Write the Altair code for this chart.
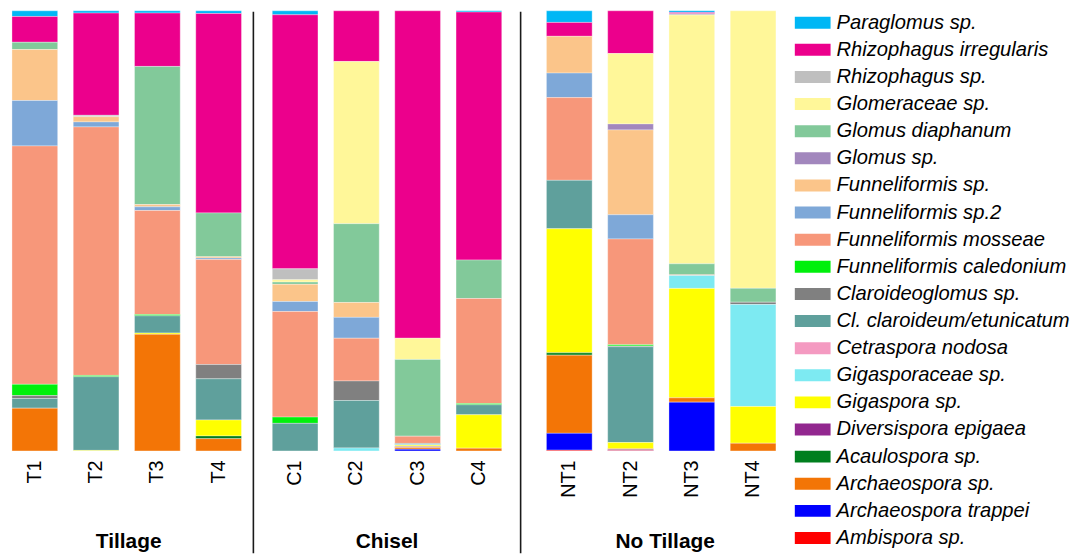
import altair as alt
import pandas as pd

# ---- data (relative abundance) ----
samples = ["T1", "T2", "T3", "T4", "C1", "C2", "C3", "C4", "NT1", "NT2", "NT3", "NT4"]
groups = ["Tillage"] * 4 + ["Chisel"] * 4 + ["No Tillage"] * 4

species = [
    "Paraglomus sp.", "Rhizophagus irregularis", "Rhizophagus sp.", "Glomeraceae sp.",
    "Glomus diaphanum", "Glomus sp.", "Funneliformis sp.", "Funneliformis sp.2",
    "Funneliformis mosseae", "Funneliformis caledonium", "Claroideoglomus sp.",
    "Cl. claroideum/etunicatum", "Cetraspora nodosa", "Gigasporaceae sp.", "Gigaspora sp.",
    "Diversispora epigaea", "Acaulospora sp.", "Archaeospora sp.", "Archaeospora trappei",
    "Ambispora sp.",
]
colors = [
    "#00B7F5", "#EC008C", "#BFBFBF", "#FFF799", "#82C99A", "#A287BD", "#FBC58A", "#7EA8D8",
    "#F7977A", "#00F00C", "#808080", "#5FA09C", "#F49AC1", "#7DEAF2", "#FFFF00",
    "#92278F", "#007F1E", "#F37506", "#0000FF", "#FF0000",
]

paraglomus      = [5.7, 2.3, 2.3, 2.7, 4.0, 0, 0, 1.3, 11.7, 0, 1.7, 0]
rhiz_irr        = [26.0, 102.7, 53.7, 200.0, 255.7, 51.0, 329.7, 249.6, 14.0, 43.0, 1.3, 0]
rhiz_sp         = [0, 1.3, 0, 0, 11.0, 0, 0, 0, 0, 0, 1.3, 0]
glomeraceae     = [0, 0, 0, 0, 2.3, 163.3, 21.3, 0, 0, 70.7, 250.0, 279.4]
glomus_diaph    = [7.3, 0, 139.0, 44.0, 2.3, 79.3, 77.3, 38.7, 0, 0, 11.0, 14.0]
glomus_sp       = [0, 0, 0, 0, 0, 0, 0, 0, 0, 6.0, 0, 0]
funnel_sp       = [51.3, 5.3, 2.3, 1.3, 17.3, 15.0, 0, 0, 37.0, 85.3, 0, 0]
funnel_sp2      = [45.7, 5.0, 3.7, 1.5, 10.0, 21.0, 0, 0, 24.7, 24.3, 0, 0]
funnel_mosseae  = [240.0, 249.6, 104.7, 105.3, 106.3, 43.0, 7.3, 105.7, 83.3, 106.3, 0.7, 0]
funnel_caled    = [11.3, 1.3, 1.3, 0, 6.3, 0, 0, 1.3, 0, 1.3, 0, 0]
claroideo_sp    = [3.0, 0, 0, 14.3, 0, 19.7, 0, 0, 0, 0.7, 0, 2.3]
cl_claroideum   = [9.7, 74.0, 17.3, 41.3, 27.7, 47.7, 1.3, 10.0, 48.7, 96.3, 0, 0]
cetraspora      = [0, 0, 0, 0, 0, 0, 0, 0, 0, 0, 0, 0]
gigasporaceae   = [0, 0, 0, 0, 0, 3.0, 0.5, 0, 0, 0, 13.0, 102.7]
gigaspora       = [0, 0.5, 1.3, 16.0, 0, 0, 1.3, 33.7, 125.0, 6.3, 110.0, 37.0]
diversispora    = [0, 0, 0, 0, 0, 0, 0.7, 0, 0, 0, 0, 0]
acaulospora     = [0, 0, 0, 2.7, 0, 0, 0.3, 0, 2.3, 0, 0, 0]
archaeospora_sp = [43.0, 0, 117.3, 12.3, 0, 0, 1.7, 2.7, 78.7, 1.0, 4.3, 7.7]
archaeo_trappei = [0, 0, 0, 0, 0, 0, 1.7, 0, 17.0, 0.7, 49.0, 0]
ambispora       = [0, 0, 0, 0, 0, 0, 0, 0, 0.7, 0.4, 0, 0]

series = [paraglomus, rhiz_irr, rhiz_sp, glomeraceae, glomus_diaph, glomus_sp, funnel_sp,
          funnel_sp2, funnel_mosseae, funnel_caled, claroideo_sp, cl_claroideum, cetraspora,
          gigasporaceae, gigaspora, diversispora, acaulospora, archaeospora_sp,
          archaeo_trappei, ambispora]

rows = []
for si, (sp, vals) in enumerate(zip(species, series)):
    for s, g, v in zip(samples, groups, vals):
        if v > 0:
            rows.append({"sample": s, "group": g, "species": sp, "value": v,
                         "ord": len(species) - 1 - si})
df = pd.DataFrame(rows)

font = "Liberation Sans"

# panel layout: (group, width, paddingOuter, align, titleX)
panels = [
    ("Tillage", 243, 0.097, 0.25, 120),
    ("Chisel", 266, 0.284, 0.543, 134),
    ("No Tillage", 269, 0.308, 0.684, 145),
]

charts = []
for i, (g, w, po, al, tx) in enumerate(panels):
    order = [s for s, gg in zip(samples, groups) if gg == g]
    bars = alt.Chart(df[df["group"] == g]).mark_bar(
        stroke="white", strokeWidth=0.6, strokeOpacity=0.55
    ).encode(
        x=alt.X("sample:N", sort=order,
                scale=alt.Scale(paddingInner=0.254, paddingOuter=po, align=al),
                axis=alt.Axis(title=g, labelAngle=-90, ticks=False, domain=False,
                              labelPadding=9, titleY=97, titleX=tx,
                              titleBaseline="alphabetic", titleAlign="center")),
        y=alt.Y("value:Q", stack="normalize", axis=None),
        color=alt.Color("species:N",
                        scale=alt.Scale(domain=species, range=colors),
                        legend=alt.Legend(title=None, orient="none",
                                          legendX=797, legendY=0)),
        order=alt.Order("ord:Q", sort="ascending"),
    )
    layer = bars
    if i > 0:
        sep = alt.Chart(pd.DataFrame({"k": [0]})).mark_rule(
            color="#1a1a1a", strokeWidth=1.6
        ).encode(x=alt.value(0), y=alt.value(1), y2=alt.value(546))
        layer = alt.layer(bars, sep)
    charts.append(layer.properties(width=w, height=443))

chart = alt.hconcat(*charts, spacing=0).properties(padding=0).configure_view(
    stroke="transparent"
).configure_axis(
    labelFont=font, labelFontSize=20, labelColor="black",
    titleFont=font, titleFontSize=21, titleFontWeight="bold", titleColor="black",
).configure_legend(
    padding=0,
    symbolType="M-1.5,-0.5L1.5,-0.5L1.5,0.5L-1.5,0.5Z", symbolSize=576,
    symbolStrokeWidth=0, symbolOpacity=1,
    labelFont=font, labelFontSize=20.3, labelFontStyle="italic", labelColor="black",
    labelOffset=12, rowPadding=4.3, labelLimit=400,
)

chart.save("out.html", embed_options={"renderer": "svg", "actions": False})
